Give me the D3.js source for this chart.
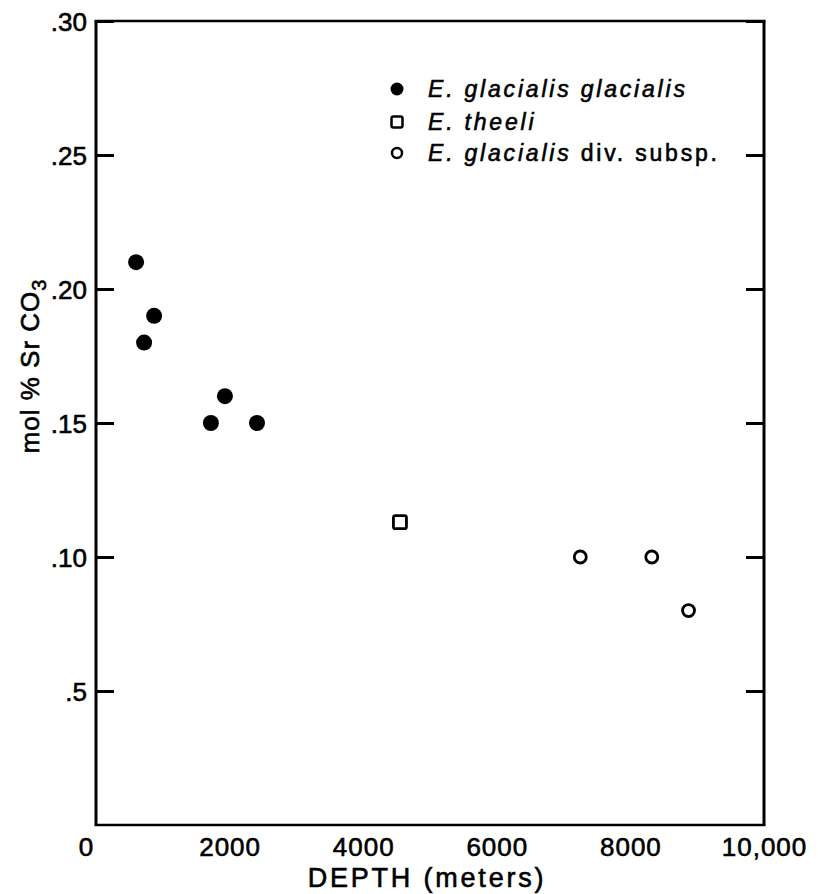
<!DOCTYPE html>
<html>
<head>
<meta charset="utf-8">
<script src="https://cdn.jsdelivr.net/npm/d3@7"></script>
<style>
  html, body { margin: 0; padding: 0; background: #fff; }
  svg { display: block; }
  text { font-family: "Liberation Sans", Arial, sans-serif; fill: #000; stroke: #000; stroke-width: 0.6px; }
</style>
</head>
<body>
<svg id="chart" width="818" height="894"></svg>
<script>
// ---- Data ----
const glacialisDepth = [600, 720, 870, 1720, 1930, 2410];
const glacialisSr    = [0.21, 0.18, 0.19, 0.15, 0.16, 0.15];
const theeliDepth = [4550];
const theeliSr    = [0.113];
const divDepth = [7250, 8320, 8870];
const divSr    = [0.10, 0.10, 0.08];

const xTicks = [0, 2000, 4000, 6000, 8000, 10000];
const xTickLabels = ["0", "2000", "4000", "6000", "8000", "10,000"];
const yTicks = [0.05, 0.10, 0.15, 0.20, 0.25, 0.30];
const yTickLabels = [".5", ".10", ".15", ".20", ".25", ".30"];

const legendNames = ["E. glacialis glacialis", "E. theeli", "E. glacialis div. subsp."];

// ---- Layout ----
const W = 818, H = 894;
const margin = {left: 96, top: 21, right: 54, bottom: 69};
const iw = W - margin.left - margin.right;
const ih = H - margin.top - margin.bottom;

const svg = d3.select("#chart");
const g = svg.append("g").attr("transform", `translate(${margin.left},${margin.top})`);

const x = d3.scaleLinear().domain([0, 10000]).range([0, iw]);
const y = d3.scaleLinear().domain([0, 0.30]).range([ih, 0]);

// Left axis (inward ticks)
const yLeft = g.append("g")
  .call(d3.axisLeft(y).tickValues(yTicks).tickSize(-18)
    .tickFormat((d, i) => yTickLabels[i]));
yLeft.select(".domain").remove();
yLeft.selectAll(".tick line").attr("stroke", "#000").attr("stroke-width", 3);
yLeft.selectAll(".tick text")
  .attr("x", -9).attr("dy", "0.36em")
  .style("font-size", "26px").style("font-family", "Liberation Sans, Arial, sans-serif");

// Right axis (inward ticks, no labels)
const yRight = g.append("g").attr("transform", `translate(${iw},0)`)
  .call(d3.axisRight(y).tickValues(yTicks).tickSize(-18).tickFormat(""));
yRight.select(".domain").remove();
yRight.selectAll(".tick line").attr("stroke", "#000").attr("stroke-width", 3);

// Bottom axis labels
const xAx = g.append("g").attr("transform", `translate(0,${ih})`)
  .call(d3.axisBottom(x).tickValues(xTicks).tickSize(0)
    .tickFormat((d, i) => xTickLabels[i]));
xAx.select(".domain").remove();
xAx.selectAll(".tick text")
  .attr("y", 31).attr("dy", "0")
  .style("font-size", "26px").style("font-family", "Liberation Sans, Arial, sans-serif")
  .style("letter-spacing", "1px");
xAx.selectAll(".tick").filter(d => d === 0).select("text").attr("dx", -10);

// Frame
g.append("line").attr("x1", 0).attr("x2", 0).attr("y1", 0).attr("y2", ih)
  .attr("stroke", "#000").attr("stroke-width", 3);
g.append("line").attr("x1", iw).attr("x2", iw).attr("y1", 0).attr("y2", ih)
  .attr("stroke", "#000").attr("stroke-width", 3);
g.append("line").attr("x1", -1.5).attr("x2", iw + 1.5).attr("y1", 0).attr("y2", 0)
  .attr("stroke", "#000").attr("stroke-width", 2.5);
g.append("line").attr("x1", -1.5).attr("x2", iw + 1.5).attr("y1", ih).attr("y2", ih)
  .attr("stroke", "#000").attr("stroke-width", 2.5);

// Axis titles
svg.append("text")
  .attr("x", 427).attr("y", 887)
  .attr("text-anchor", "middle")
  .style("font-size", "27px").style("letter-spacing", "2.8px")
  .text("DEPTH (meters)");

const yt = svg.append("text")
  .attr("transform", `translate(39,366) rotate(-90)`)
  .attr("text-anchor", "middle")
  .style("font-size", "26px").style("letter-spacing", "1px");
yt.append("tspan").text("mol % Sr CO");
yt.append("tspan").attr("dy", 7).style("font-size", "20px").text("3");

// ---- Points ----
const gg = glacialisDepth.map((d, i) => ({x: d, y: glacialisSr[i]}));
const th = theeliDepth.map((d, i) => ({x: d, y: theeliSr[i]}));
const dv = divDepth.map((d, i) => ({x: d, y: divSr[i]}));

g.selectAll(".gg").data(gg).enter().append("circle")
  .attr("cx", d => x(d.x)).attr("cy", d => y(d.y)).attr("r", 8).attr("fill", "#000");

const sq = 13;
g.selectAll(".th").data(th).enter().append("rect")
  .attr("x", d => x(d.x) - sq / 2).attr("y", d => y(d.y) - sq / 2)
  .attr("width", sq).attr("height", sq).attr("rx", 2)
  .attr("fill", "#fff").attr("stroke", "#000").attr("stroke-width", 2.8);

g.selectAll(".dv").data(dv).enter().append("circle")
  .attr("cx", d => x(d.x)).attr("cy", d => y(d.y)).attr("r", 6)
  .attr("fill", "#fff").attr("stroke", "#000").attr("stroke-width", 2.8);

// ---- Legend ----
const legY = [89, 122, 153];
const lx = 397, tx = 428;
const leg = svg.append("g");
leg.append("circle").attr("cx", lx).attr("cy", legY[0]).attr("r", 6.5).attr("fill", "#000");
leg.append("rect").attr("x", lx - 5.5).attr("y", legY[1] - 5.5).attr("width", 11).attr("height", 11)
  .attr("rx", 2).attr("fill", "#fff").attr("stroke", "#000").attr("stroke-width", 2.5);
leg.append("circle").attr("cx", lx).attr("cy", legY[2]).attr("r", 5).attr("fill", "#fff")
  .attr("stroke", "#000").attr("stroke-width", 2.5);

legendNames.forEach((name, i) => {
  const t = leg.append("text").attr("x", tx).attr("y", legY[i] + 8)
    .style("font-size", "23px").style("letter-spacing", "2.8px");
  if (i === 2) {
    t.append("tspan").style("font-style", "italic").text("E. glacialis");
    t.append("tspan").text(" div. subsp.");
  } else {
    t.style("font-style", "italic").text(name);
  }
});
</script>
</body>
</html>
